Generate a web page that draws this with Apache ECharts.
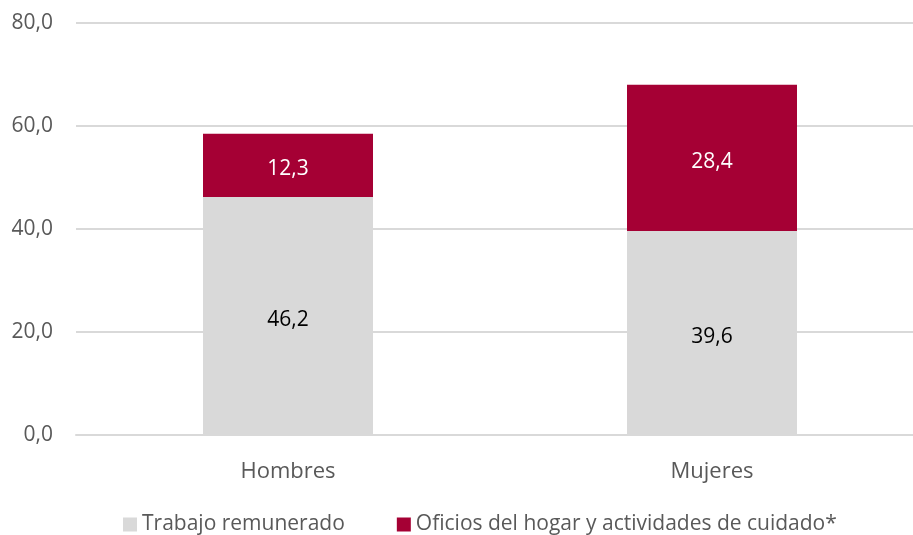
<!DOCTYPE html>
<html><head><meta charset="utf-8">
<script src="https://cdn.jsdelivr.net/npm/echarts@6/dist/echarts.min.js"></script>
<style>html,body{margin:0;padding:0;background:#fff;overflow:hidden}#wrap{width:913px;height:535px;overflow:hidden}#c{width:924px;height:535px}</style>
</head><body><div id="wrap"><div id="c"></div></div>
<script>
const categories = ['Hombres', 'Mujeres'];
const trabajo = [46.2, 39.6];
const oficios = [12.3, 28.4];
const seriesNames = ['Trabajo remunerado', 'Oficios del hogar y actividades de cuidado*'];
const yTicks = [0, 20, 40, 60, 80];

const fmt = v => v.toFixed(1).replace('.', ',');
const FONT = 'Open Sans';
const chart = echarts.init(document.getElementById('c'));
chart.setOption({
  animation: false,
  textStyle: { fontFamily: FONT },
  grid: { left: 76, right: 0, top: 23, bottom: 100, containLabel: false },
  legend: {
    top: 514, left: 123, itemWidth: 14, itemHeight: 14, itemGap: 52,
    icon: 'rect', padding: 0,
    textStyle: { fontSize: 21, color: '#595959', fontFamily: FONT },
    data: seriesNames
  },
  xAxis: {
    type: 'category', data: categories,
    axisLine: { lineStyle: { color: '#D9D9D9', width: 2 } },
    axisTick: { show: false },
    axisLabel: { fontSize: 22, color: '#595959', margin: 26, fontFamily: FONT }
  },
  yAxis: {
    type: 'value', min: yTicks[0], max: yTicks[yTicks.length - 1], interval: 20,
    axisLine: { show: false }, axisTick: { show: false },
    splitLine: { lineStyle: { color: '#D9D9D9', width: 2 } },
    axisLabel: { fontSize: 21, color: '#595959', margin: 23, padding: [4, 0, 0, 0], formatter: fmt, fontFamily: FONT }
  },
  series: [
    {
      name: seriesNames[0], type: 'bar', stack: 's', data: trabajo, barWidth: 170,
      itemStyle: { color: '#D9D9D9' },
      label: { show: true, position: 'inside', offset: [0, 4], color: '#000', fontSize: 21, fontFamily: FONT, formatter: p => fmt(p.value) }
    },
    {
      name: seriesNames[1], type: 'bar', stack: 's', data: oficios, barWidth: 170,
      itemStyle: { color: '#A50034' },
      label: { show: true, position: 'inside', offset: [0, 4], color: '#fff', fontSize: 21, fontFamily: FONT, formatter: p => fmt(p.value) }
    }
  ]
});
</script></body></html>
